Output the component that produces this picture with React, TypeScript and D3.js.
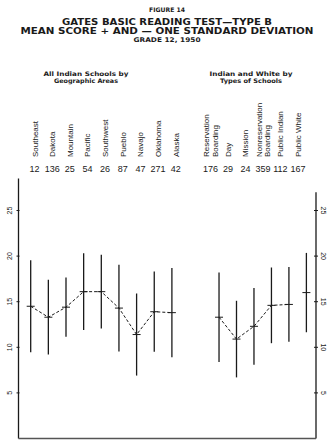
import React from "react";
import * as d3 from "d3";

// Geographic areas (left group)
const areaNames = ["Southeast", "Dakota", "Mountain", "Pacific", "Southwest", "Pueblo", "Navajo", "Oklahoma", "Alaska"];
const areaCases = [12, 136, 25, 54, 26, 87, 47, 271, 42];
const areaMean = [14.5, 13.3, 14.4, 16.1, 16.1, 14.3, 11.4, 13.9, 13.8];
const areaSD = [5.05, 4.1, 3.25, 4.2, 4.05, 4.75, 4.5, 4.4, 4.9];

// Types of schools (right group)
const typeNames = ["Reservation|Boarding", "Day", "Mission", "Nonreservation|Boarding", "Public Indian", "Public White"];
const typeCases = [176, 29, 24, 359, 112, 167];
const typeMean = [13.3, 10.9, 12.3, 14.6, 14.7, 16.0];
const typeSD = [4.9, 4.2, 4.2, 4.15, 4.1, 4.35];
const typeLinked = 5; // Public White is not joined to the dashed line

const yTicks = [5, 10, 15, 20, 25];

const titleLines = [
  "FIGURE 14",
  "GATES BASIC READING TEST\u2014TYPE B",
  "MEAN SCORE + AND \u2014 ONE STANDARD DEVIATION",
  "GRADE 12, 1950",
];

export default function App() {
  const W = 334, H = 446;
  const axisL = 18.5, axisR = 316, base = 438.5;

  const y = d3.scaleLinear().domain([0, 25]).range([base, 210.5]);
  const x = d3.scaleLinear().domain([0, 1]).range([30.7, 48.35]);

  const rightStart = 10.67;
  const pts = [
    ...areaNames.map((n, i) => ({ name: n, n: areaCases[i], m: areaMean[i], sd: areaSD[i], slot: i, g: 0 })),
    ...typeNames.map((n, i) => ({ name: n, n: typeCases[i], m: typeMean[i], sd: typeSD[i], slot: rightStart + i * 0.99, g: 1 })),
  ];

  const line = d3.line<any>().x(d => x(d.slot)).y(d => y(d.m));
  const leftPath = line(pts.filter(p => p.g === 0));
  const rightPath = line(pts.filter(p => p.g === 1).slice(0, typeLinked));

  const font = "'Liberation Sans', Arial, sans-serif";
  const bold = "'DejaVu Sans', sans-serif";
  const ink = "#1a1a1a";

  const titleY = [12.3, 25, 34, 41.7];
  const titleW = [36, 210, 293, 67];
  const titleSize = [6.2, 8.6, 8.6, 6.4];

  return (
    <svg width={W} height={H} style={{ position: "absolute", left: 0, top: 0, background: "#fff" }}>
      {titleLines.map((t, i) => (
        <text key={t} x={W / 2} y={titleY[i]} textAnchor="middle" fontFamily={bold} fontWeight="bold"
          fontSize={titleSize[i]} fill={ink} textLength={titleW[i]} lengthAdjust="spacingAndGlyphs">{t}</text>
      ))}

      {/* group headings */}
      <g fontFamily={bold} fontWeight="bold" fontSize={6.2} fill={ink} textAnchor="middle">
        <text x={86} y={76} textLength={85} lengthAdjust="spacingAndGlyphs">All Indian Schools by</text>
        <text x={86} y={82.5} textLength={64} lengthAdjust="spacingAndGlyphs">Geographic Areas</text>
        <text x={251} y={76} textLength={83} lengthAdjust="spacingAndGlyphs">Indian and White by</text>
        <text x={251} y={82.5} textLength={62} lengthAdjust="spacingAndGlyphs">Types of Schools</text>
      </g>

      {/* category labels and number of cases */}
      {pts.map(p => {
        const lx = x(p.slot) + (p.g === 0 ? 3.8 : -8.5);
        const lines = p.name.split("|");
        return (
          <g key={p.name}>
            {lines.map((ln, j) => {
              const cx = lx + (j - (lines.length - 1) / 2) * 8.5;
              return (
                <text key={ln} transform={`translate(${cx + 3},157) rotate(-90)`} fontFamily={font}
                  fontSize={8} fill={ink}>{ln}</text>
              );
            })}
            <text x={lx} y={172} textAnchor="middle" fontFamily={font} fontSize={9} fill={ink}>{p.n}</text>
          </g>
        );
      })}

      {/* axes */}
      <g stroke={ink} strokeWidth={1.3} fill="none">
        <line x1={axisL} x2={axisL} y1={y(28.5)} y2={base} />
        <line x1={axisR} x2={axisR} y1={y(27)} y2={base} />
        <line x1={axisL} x2={axisR} y1={base} y2={base} stroke="#555" />
      </g>
      {yTicks.map(t => (
        <g key={t} fontFamily={font} fontSize={7} fill={ink}>
          <line x1={axisL - 2} x2={axisL + 1} y1={y(t)} y2={y(t)} stroke={ink} strokeWidth={1} />
          <line x1={axisR - 2} x2={axisR + 2} y1={y(t)} y2={y(t)} stroke={ink} strokeWidth={1} />
          <text transform={`translate(${axisL - 9},${y(t)}) rotate(-90)`} textAnchor="middle" dy="0.35em">{t}</text>
          <text transform={`translate(${axisR + 7},${y(t)}) rotate(90)`} textAnchor="middle" dy="0.35em">{t}</text>
        </g>
      ))}

      {/* standard deviation bars */}
      {pts.map(p => (
        <g key={"bar" + p.name} stroke={ink}>
          <line x1={x(p.slot)} x2={x(p.slot)} y1={y(p.m + p.sd)} y2={y(p.m - p.sd)} strokeWidth={1.3} />
          <line x1={x(p.slot) - 4} x2={x(p.slot) + 4} y1={y(p.m)} y2={y(p.m)} strokeWidth={1} />
        </g>
      ))}

      {/* dashed lines joining the means */}
      <g fill="none" stroke={ink} strokeWidth={1} strokeDasharray="3,2">
        <path d={leftPath ?? ""} />
        <path d={rightPath ?? ""} />
      </g>
    </svg>
  );
}
